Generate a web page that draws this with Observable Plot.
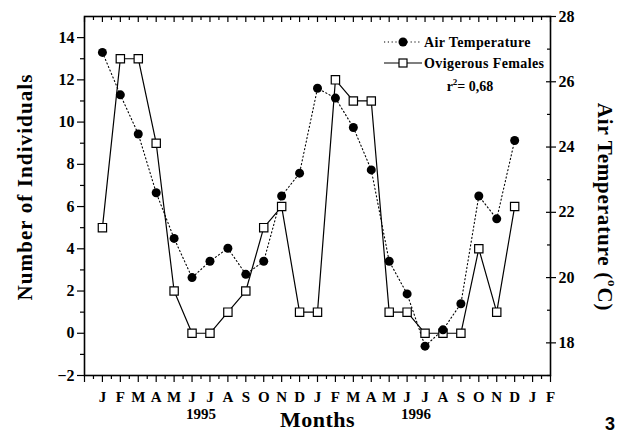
<!DOCTYPE html>
<html><head><meta charset="utf-8">
<script src="https://cdn.jsdelivr.net/npm/d3@7"></script>
<script src="https://cdn.jsdelivr.net/npm/@observablehq/plot@0.6"></script>
<style>body{margin:0;background:#fff} #chart svg{font-family:"Liberation Serif",serif}</style>
</head><body><div id="chart"></div>
<script>
// ---- data ----
const monthIndex = d3.range(0, 24); // Jan 1995 .. Dec 1996
const monthLetters = ["J","F","M","A","M","J","J","A","S","O","N","D","J","F","M","A","M","J","J","A","S","O","N","D","J","F"];
const years = ["1995", "1996"];
const yearPositions = [5.5, 17.5];
const ovigerousFemales = [5,13,13,9,2,0,0,1,2,5,6,1,1,12,11,11,1,1,0,0,0,4,1,6];
const airTemperature = [26.9,25.6,24.4,22.6,21.2,20.0,20.5,20.9,20.1,20.5,22.5,23.2,25.8,25.5,24.6,23.3,20.5,19.5,17.9,18.4,19.2,22.5,21.8,24.2];
const leftTicks = [-2,0,2,4,6,8,10,12,14];
const leftMinor = [-1,1,3,5,7,9,11,13];
const rightTicks = [18,20,22,24,26,28];
const rightMinor = [17,19,21,23,25,27];

// ---- scales ----
const leftDomain = [-2, 15], rightDomain = [17, 28];
const toLeft = t => leftDomain[0] + (t - rightDomain[0]) * (leftDomain[1]-leftDomain[0]) / (rightDomain[1]-rightDomain[0]);
const fromLeft = v => rightDomain[0] + (v - leftDomain[0]) * (rightDomain[1]-rightDomain[0]) / (leftDomain[1]-leftDomain[0]);

const W = 624, H = 438, mL = 84, mR = 74, mT = 16, mB = 63;
const blank = () => "";

const plot = Plot.plot({
  width: W, height: H,
  marginLeft: mL, marginRight: mR, marginTop: mT, marginBottom: mB,
  style: {fontFamily: "Liberation Serif", color: "black", background: "white", overflow: "visible"},
  x: {domain: [-1, 25], axis: null},
  y: {domain: leftDomain, axis: null},
  marks: [
    Plot.frame({stroke: "black", strokeWidth: 1.6}),
    // bottom axis
    Plot.axisX({anchor: "bottom", ticks: d3.range(-1, 26), tickSize: 7, tickPadding: 9,
      tickFormat: i => monthLetters[i] ?? "", fontSize: 15, fontWeight: "bold", strokeWidth: 1.2, label: null}),
    Plot.axisX({anchor: "bottom", ticks: d3.range(-0.5, 25, 1), tickSize: 4, tickFormat: blank, strokeWidth: 1.2, label: null}),
    // top ticks (inward)
    Plot.axisX({anchor: "top", ticks: d3.range(-1, 26), tickSize: 5, dy: 5, tickFormat: blank, strokeWidth: 1.2, label: null}),
    Plot.axisX({anchor: "top", ticks: d3.range(-0.5, 25, 1), tickSize: 3, dy: 3, tickFormat: blank, strokeWidth: 1.2, label: null}),
    // left axis
    Plot.axisY({anchor: "left", ticks: leftTicks, tickSize: 7, tickPadding: 3, fontSize: 16, fontWeight: "bold", strokeWidth: 1.2, label: null}),
    Plot.axisY({anchor: "left", ticks: leftMinor, tickSize: 4, tickFormat: blank, strokeWidth: 1.2, label: null}),
    // right axis (temperature): major ticks cross, minor ticks inward
    Plot.axisY({anchor: "right", ticks: rightTicks.map(toLeft), tickSize: 5, tickPadding: 3,
      tickFormat: v => String(Math.round(fromLeft(v))), fontSize: 16, fontWeight: "bold", strokeWidth: 1.2, label: null}),
    Plot.axisY({anchor: "right", ticks: rightTicks.map(toLeft), tickSize: 5, dx: -5, tickFormat: blank, strokeWidth: 1.2, label: null}),
    Plot.axisY({anchor: "right", ticks: rightMinor.map(toLeft), tickSize: 4, dx: -4, tickFormat: blank, strokeWidth: 1.2, label: null}),
    // series
    Plot.line(monthIndex, {x: i => i, y: i => toLeft(airTemperature[i]), stroke: "black", strokeWidth: 1.1, strokeDasharray: "1.2,2.6"}),
    Plot.line(monthIndex, {x: i => i, y: i => ovigerousFemales[i], stroke: "black", strokeWidth: 1.2}),
    Plot.dot(monthIndex, {x: i => i, y: i => ovigerousFemales[i], symbol: "square", r: 4.7, fill: "white", stroke: "black", strokeWidth: 1.2}),
    Plot.dot(monthIndex, {x: i => i, y: i => toLeft(airTemperature[i]), symbol: "circle", r: 4.5, fill: "black"}),
    // labels
    Plot.text(years, {x: yearPositions, frameAnchor: "bottom", dy: 43, fontSize: 15, fontWeight: "bold"}),
    Plot.text(["Months"], {frameAnchor: "bottom", dy: 51.5, fontSize: 22, fontWeight: "bold", textAnchor: "middle"}),
    Plot.text(["Number of Individuals"], {frameAnchor: "left", textAnchor: "middle", dx: -59, dy: -9, rotate: -90, fontSize: 21, fontWeight: "bold"})
  ]
});

document.getElementById("chart").appendChild(plot);

// ---- decorations: right title, legend, r², corner label ----
const svg = d3.select(plot);
svg.selectAll("text").filter(function(){ return this.textContent === "Number of Individuals" || this.textContent === "Months"; })
  .style("letter-spacing", function(){ return this.textContent === "Months" ? "0.5px" : "1.1px"; });

const rt = svg.append("text")
  .attr("transform", "translate(603,207) rotate(90)")
  .attr("text-anchor", "middle").attr("dominant-baseline", "middle")
  .attr("font-size", 21).attr("font-weight", "bold").attr("fill", "black")
  .style("letter-spacing", "0.8px");
rt.append("tspan").text("Air Temperature (");
rt.append("tspan").attr("font-size", 13).attr("dy", -8).text("o");
rt.append("tspan").attr("dy", 8).text("C)");

const lg = svg.append("g").attr("font-size", 14).attr("font-weight", "bold").attr("fill", "black").attr("text-anchor", "start");
const rows = [
  {label: "Air Temperature", dash: "1.2,2.6", y: 42, marker: "circle"},
  {label: "Ovigerous Females", dash: null, y: 63, marker: "square"}
];
rows.forEach(r => {
  const ln = lg.append("line").attr("x1", 384).attr("x2", 422).attr("y1", r.y).attr("y2", r.y)
    .attr("stroke", "black").attr("stroke-width", 1.1);
  if (r.dash) ln.attr("stroke-dasharray", r.dash);
  if (r.marker === "circle") lg.append("circle").attr("cx", 403).attr("cy", r.y).attr("r", 4.5).attr("fill", "black");
  else lg.append("rect").attr("x", 399).attr("y", r.y - 4).attr("width", 8).attr("height", 8).attr("fill", "white").attr("stroke", "black").attr("stroke-width", 1.2);
  lg.append("text").attr("x", 424).attr("y", r.y).attr("dy", "0.35em").attr("text-anchor", "start")
    .style("letter-spacing", "0.4px").text(r.label);
});
const r2 = lg.append("text").attr("x", 470).attr("y", 86).attr("dy", "0.35em").attr("text-anchor", "middle");
r2.append("tspan").text("r");
r2.append("tspan").attr("font-size", 9).attr("dy", -6).text("2");
r2.append("tspan").attr("dy", 6).text("= 0,68");

svg.append("text").attr("x", 610).attr("y", 430).attr("text-anchor", "middle")
  .attr("font-family", "Liberation Sans, Arial, sans-serif").attr("font-weight", "bold").attr("font-size", 18).text("3");
</script>
</body></html>
